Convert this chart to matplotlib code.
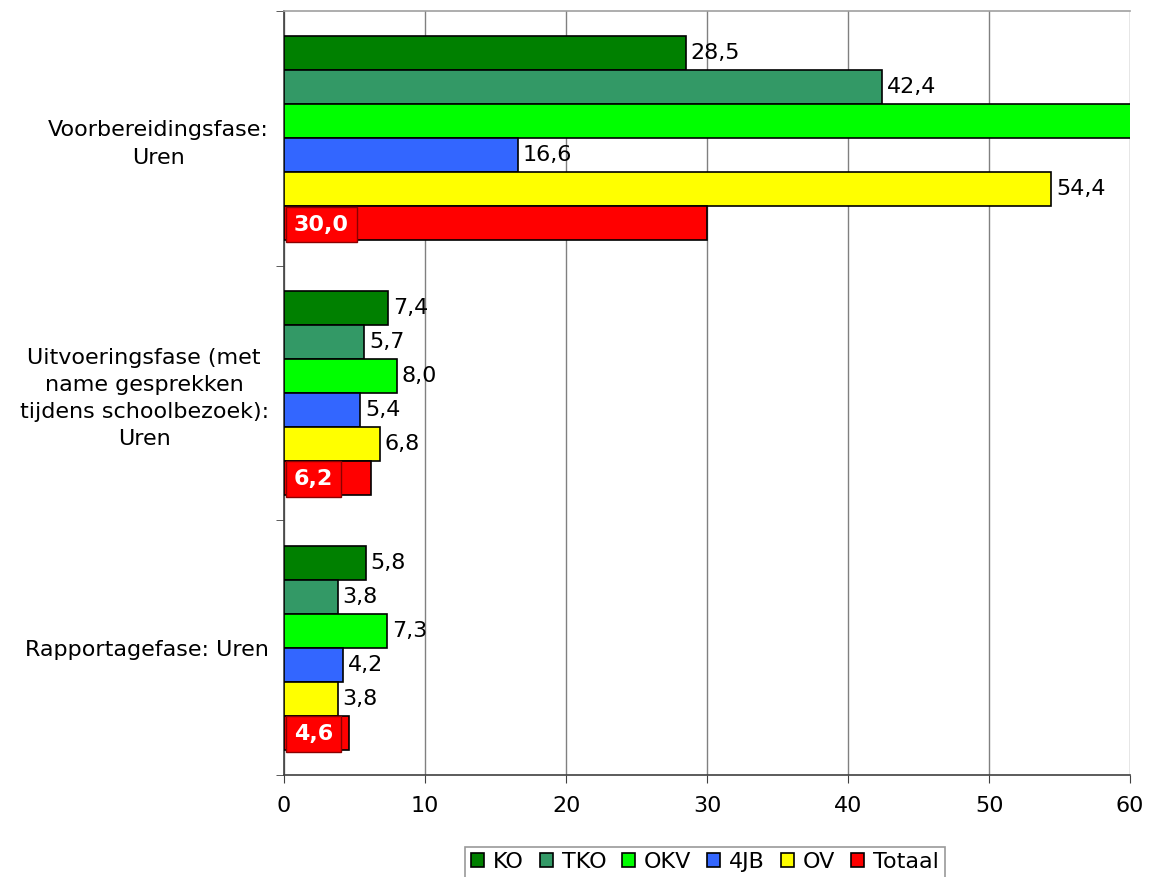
import matplotlib
matplotlib.use("Agg")
import matplotlib.pyplot as plt
import numpy as np

categories = [
    "Voorbereidingsfase:\nUren",
    "Uitvoeringsfase (met\nname gesprekken\ntijdens schoolbezoek):\nUren",
    "Rapportagefase: Uren",
]
series = ["KO", "TKO", "OKV", "4JB", "OV", "Totaal"]
values = {
    "KO": [28.5, 7.4, 5.8],
    "TKO": [42.4, 5.7, 3.8],
    "OKV": [64.0, 8.0, 7.3],   # first bar runs off the chart
    "4JB": [16.6, 5.4, 4.2],
    "OV": [54.4, 6.8, 3.8],
    "Totaal": [30.0, 6.2, 4.6],
}
colors = {
    "KO": "#008000",
    "TKO": "#339966",
    "OKV": "#00FF00",
    "4JB": "#3366FF",
    "OV": "#FFFF00",
    "Totaal": "#FF0000",
}

XMAX = 60
FS = 16

fig = plt.figure(figsize=(11.5, 8.77), dpi=100)
ax = fig.add_axes([0.247, 0.1163, 0.7357, 0.8712])

y = np.arange(len(categories))
group_h = 0.8
bar_h = group_h / len(series)

for i, s in enumerate(series):
    pos = y - group_h / 2 + bar_h * (i + 0.5)
    ax.barh(pos, values[s], height=bar_h, color=colors[s], edgecolor="black",
            linewidth=1.2, label=s, zorder=3)
    for p, v in zip(pos, values[s]):
        txt = f"{v:.1f}".replace(".", ",")
        if s == "Totaal":
            ax.annotate(txt, (0, p), xytext=(7, -1), textcoords="offset points",
                        ha="left", va="center", fontsize=FS, color="white",
                        fontweight="bold", zorder=5,
                        bbox=dict(boxstyle="square,pad=0.35", fc="#FF0000",
                                  ec="#8B0000", lw=1.0))
        elif v <= XMAX:
            ax.annotate(txt, (v, p), xytext=(3.5, 0), textcoords="offset points",
                        ha="left", va="center", fontsize=FS, color="black",
                        zorder=4)

ax.set_xlim(0, XMAX)
ax.set_ylim(len(categories) - 0.5, -0.5)
ax.set_xticks(range(0, XMAX + 1, 10))
ax.tick_params(axis="x", labelsize=FS, direction="out", length=6, pad=9,
               color="#404040")
ax.grid(axis="x", color="#808080", linewidth=1, zorder=0)

ax.set_yticks(y)
ax.set_yticklabels(categories, fontsize=FS)
for t in ax.get_yticklabels():
    t.set_multialignment("center")
    t.set_linespacing(1.45)
ax.tick_params(axis="y", which="major", length=0, pad=11)
ax.set_yticks(np.arange(-0.5, len(categories)), minor=True)
ax.tick_params(axis="y", which="minor", length=6, direction="out",
               color="#404040")

ax.spines["right"].set_visible(False)
ax.spines["top"].set_color("#a0a0a0")
ax.spines["left"].set_color("#404040")
ax.spines["bottom"].set_color("#404040")
for sp in ax.spines.values():
    sp.set_linewidth(1.2)

leg = fig.legend(loc="center", bbox_to_anchor=(0.613, 0.017), ncol=6,
                 fontsize=FS, frameon=True, fancybox=False, edgecolor="#808080",
                 handlelength=0.6, handleheight=0.6, handletextpad=0.4,
                 columnspacing=0.7, borderpad=0.25, borderaxespad=0)
leg.get_frame().set_linewidth(1.2)

fig.savefig("out.png", dpi=100)
